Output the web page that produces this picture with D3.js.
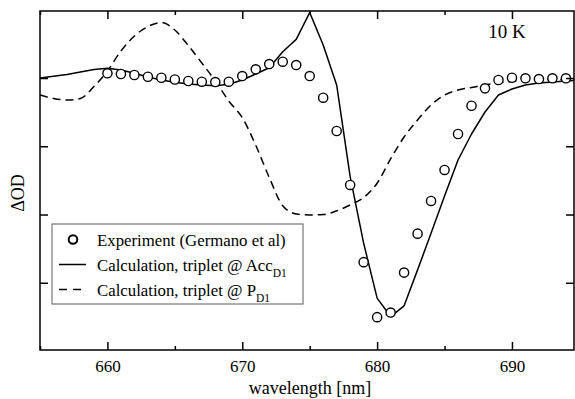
<!DOCTYPE html>
<html>
<head>
<meta charset="utf-8">
<script src="https://cdn.jsdelivr.net/npm/d3@7/dist/d3.min.js"></script>
<style>
  html, body { margin: 0; padding: 0; background: #fff; }
  svg { display: block; }
  svg text { font-family: "Liberation Serif", "Times New Roman", Times, "DejaVu Serif", "Noto Serif", serif !important; fill: #000; }
</style>
</head>
<body>
<svg id="chart" width="575" height="399"></svg>
<script>
// Experimental transient absorption (open circles), 1 nm steps
const exptWl = d3.range(660, 695, 1);
const exptOD = [0.069, 0.059, 0.044, 0.019, 0.004, -0.022, -0.044, -0.054, -0.059, -0.054,
                0.029, 0.127, 0.205, 0.239, 0.190, 0.029, -0.288, -0.776, -1.567, -2.698,
                -3.504, -3.436, -2.851, -2.280, -1.801, -1.347, -0.820, -0.406, -0.151, -0.029,
                0.004, -0.004, -0.015, -0.004, -0.004];

// Calculated spectrum, triplet on Acc_D1 (solid)
const accWl = [655, 656, 657, 658, 659, 660, 661, 662, 663, 664, 665, 666, 667, 668, 669, 670,
               671, 672, 673, 674, 675, 676, 677, 678, 679, 680, 681, 682, 683, 684, 685, 686,
               687, 688, 689, 690, 691, 692, 693, 694.6];
const accOD = [0, 0.025, 0.051, 0.088, 0.124, 0.142, 0.117, 0.069, 0.015, -0.029, -0.063, -0.088,
               -0.102, -0.114, -0.092, -0.029, 0.059, 0.151, 0.385, 0.567, 0.959, 0.483, -0.102,
               -1.445, -2.420, -3.225, -3.495, -3.338, -2.811, -2.274, -1.728, -1.201, -0.820,
               -0.498, -0.249, -0.161, -0.102, -0.073, -0.059, -0.037];

// Calculated spectrum, triplet on P_D1 (dashed)
const pdWl = [655, 656, 657, 658, 659, 660, 661, 662, 663, 664, 665, 666, 667, 668, 669, 670,
              671, 672, 673, 674, 675, 676, 677, 678, 679, 680, 681, 682, 683, 684, 685, 686,
              687, 688, 689, 690, 692, 694.6];
const pdOD = [-0.249, -0.300, -0.322, -0.300, -0.124, 0.102, 0.395, 0.615, 0.754, 0.813, 0.703,
              0.476, 0.220, -0.041, -0.337, -0.581, -0.985, -1.457, -1.871, -1.991, -2.006,
              -1.999, -1.947, -1.859, -1.753, -1.542, -1.186, -0.864, -0.615, -0.395, -0.249,
              -0.176, -0.139, -0.102, -0.073, -0.050, -0.030, -0.022];

const xMajor = [660, 670, 680, 690];
const xMinor = [655, 665, 675, 685];
const yTicks = [-3, -2, -1, 0];

const legendItems = [
  { kind: "circle", text: "Experiment (Germano et al)", sub: "" },
  { kind: "solid",  text: "Calculation, triplet @ Acc", sub: "D1" },
  { kind: "dashed", text: "Calculation, triplet @ P",   sub: "D1" }
];

const serif = '"Liberation Serif", "Times New Roman", Times, "DejaVu Serif", "Noto Serif", serif';

const svg = d3.select("#chart");
const plotL = 40, plotR = 574, plotT = 11, plotB = 350;

const x = d3.scaleLinear().domain([655, 694.6]).range([plotL, plotR]);
const y = d3.scaleLinear().domain([-3.985, 0.982]).range([plotB, plotT]);

svg.append("defs").append("clipPath").attr("id", "plotClip")
  .append("rect").attr("x", plotL).attr("y", plotT)
  .attr("width", plotR - plotL).attr("height", plotB - plotT);

const plot = svg.append("g").attr("clip-path", "url(#plotClip)");

plot.append("path")
  .datum(d3.zip(pdWl, pdOD))
  .attr("fill", "none").attr("stroke", "#000").attr("stroke-width", 1.5)
  .attr("stroke-dasharray", "8,5")
  .attr("d", d3.line().x(d => x(d[0])).y(d => y(d[1])).curve(d3.curveMonotoneX));

plot.append("path")
  .datum(d3.zip(accWl, accOD))
  .attr("fill", "none").attr("stroke", "#000").attr("stroke-width", 1.5)
  .attr("stroke-linejoin", "round")
  .attr("d", d3.line().x(d => x(d[0])).y(d => y(d[1])));

plot.selectAll("circle.expt")
  .data(d3.zip(exptWl, exptOD))
  .join("circle").attr("class", "expt")
  .attr("cx", d => x(d[0])).attr("cy", d => y(d[1])).attr("r", 4.6)
  .attr("fill", "#fff").attr("stroke", "#000").attr("stroke-width", 1.4);

// Axes: ticks point inward on all four sides
function styleAxis(g) {
  g.attr("font-family", serif);
  g.select(".domain").remove();
  g.selectAll(".tick line").attr("stroke", "#000").attr("stroke-width", 1.5);
  g.selectAll(".tick text").style("font-size", "17px").style("font-family", serif);
}

svg.append("g").attr("transform", `translate(0,${plotB})`)
  .call(d3.axisBottom(x).tickValues(xMajor).tickFormat(d3.format("d"))
        .tickSizeInner(-8).tickSizeOuter(0).tickPadding(10))
  .call(styleAxis);
svg.append("g").attr("transform", `translate(0,${plotB})`)
  .call(d3.axisBottom(x).tickValues(xMinor).tickFormat("")
        .tickSizeInner(-4).tickSizeOuter(0))
  .call(styleAxis);
svg.append("g").attr("transform", `translate(0,${plotT})`)
  .call(d3.axisTop(x).tickValues(xMajor).tickFormat("")
        .tickSizeInner(-8).tickSizeOuter(0))
  .call(styleAxis);
svg.append("g").attr("transform", `translate(0,${plotT})`)
  .call(d3.axisTop(x).tickValues(xMinor).tickFormat("")
        .tickSizeInner(-4).tickSizeOuter(0))
  .call(styleAxis);
svg.append("g").attr("transform", `translate(${plotL},0)`)
  .call(d3.axisLeft(y).tickValues(yTicks).tickFormat("")
        .tickSizeInner(-8).tickSizeOuter(0))
  .call(styleAxis);
svg.append("g").attr("transform", `translate(${plotR},0)`)
  .call(d3.axisRight(y).tickValues(yTicks).tickFormat("")
        .tickSizeInner(-8).tickSizeOuter(0))
  .call(styleAxis);

// Frame
svg.append("rect")
  .attr("x", plotL).attr("y", plotT).attr("width", plotR - plotL).attr("height", plotB - plotT)
  .attr("fill", "none").attr("stroke", "#000").attr("stroke-width", 1.5);

// Axis titles
svg.append("text")
  .attr("x", (plotL + plotR) / 2 + 3).attr("y", 394)
  .attr("text-anchor", "middle").style("font-size", "18px").style("font-family", serif)
  .text("wavelength [nm]");

svg.append("text")
  .attr("transform", `translate(24,193) rotate(-90)`)
  .attr("text-anchor", "middle").style("font-size", "18px").style("font-family", serif)
  .text("ΔOD");

svg.append("text")
  .attr("x", 507).attr("y", 38).attr("text-anchor", "middle")
  .style("font-size", "19px").style("font-family", serif).text("10 K");

// Legend
const lg = svg.append("g");
lg.append("rect")
  .attr("x", 52).attr("y", 224).attr("width", 251).attr("height", 80)
  .attr("fill", "#fff").attr("stroke", "#777").attr("stroke-width", 1.2);

legendItems.forEach((it, i) => {
  const cy = 239.5 + i * 25;
  if (it.kind === "circle") {
    lg.append("circle").attr("cx", 73).attr("cy", cy).attr("r", 4.3)
      .attr("fill", "#fff").attr("stroke", "#000").attr("stroke-width", 2);
  } else {
    lg.append("line").attr("x1", 59).attr("x2", 86).attr("y1", cy).attr("y2", cy)
      .attr("stroke", "#000").attr("stroke-width", 1.5)
      .attr("stroke-dasharray", it.kind === "dashed" ? "8,6" : null);
  }
  const t = lg.append("text").attr("x", 97).attr("y", cy + 6)
    .style("font-size", "16.8px").style("font-family", serif);
  t.append("tspan").text(it.text);
  if (it.sub) {
    t.append("tspan").attr("dy", 6).style("font-size", "11.5px").text(it.sub);
  }
});
</script>
</body>
</html>
